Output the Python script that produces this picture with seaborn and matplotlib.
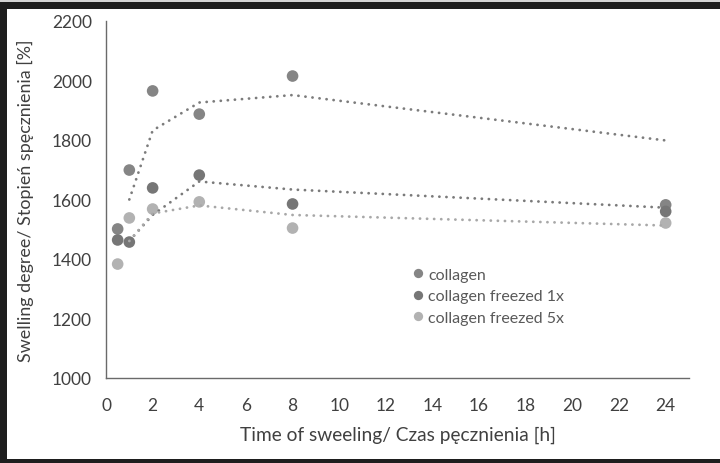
import numpy as np
import pandas as pd
import matplotlib
matplotlib.use("Agg")
import matplotlib.pyplot as plt
from matplotlib.patches import Rectangle
import seaborn as sns

# ---- data ----
time_h = [0.5, 1, 2, 4, 8, 24]
collagen = [1501, 1699, 1965, 1887, 2015, 1582]
collagen_1x = [1464, 1457, 1639, 1682, 1585, 1560]
collagen_5x = [1383, 1538, 1568, 1592, 1504, 1521]
series_names = ["collagen", "collagen freezed 1x", "collagen freezed 5x"]
x_ticks = [0, 2, 4, 6, 8, 10, 12, 14, 16, 18, 20, 22, 24]
y_ticks = [1000, 1200, 1400, 1600, 1800, 2000, 2200]

point_colors = ["#858585", "#767676", "#b2b2b2"]
line_colors = ["#7c7c7c", "#7a7a7a", "#a8a8a8"]

sns.set_theme(style="white")
plt.rcParams["font.family"] = ["Lato", "DejaVu Sans"]

frames = []
for name, vals in zip(series_names, [collagen, collagen_1x, collagen_5x]):
    d = pd.DataFrame({"time": time_h, "value": vals, "series": name})
    d["ma"] = d["value"].rolling(2).mean()
    frames.append(d)
df = pd.concat(frames, ignore_index=True)

fig = plt.figure(figsize=(7.2, 4.64), dpi=100)
fig.patch.set_facecolor("white")
ax = fig.add_axes([106 / 720, 1 - 379 / 464, 583 / 720, 357 / 464])

pal = dict(zip(series_names, point_colors))
lpal = dict(zip(series_names, line_colors))

sns.scatterplot(data=df, x="time", y="value", hue="series", palette=pal,
                s=70, edgecolor="none", ax=ax, zorder=2)
handles, labels = ax.get_legend_handles_labels()
if ax.get_legend():
    ax.get_legend().remove()

n_before = len(ax.lines)
for name in series_names:
    sub = df[(df["series"] == name) & df["ma"].notna()]
    sns.lineplot(data=sub, x="time", y="ma", color=lpal[name], ax=ax,
                 linewidth=2.0, legend=False,
                 zorder=3, estimator=None, sort=False)
for l in ax.lines[n_before:]:
    l.set_linestyle((0, (0.05, 2.5)))
    l.set_dash_capstyle("round")

ax.set_xlim(0, 25)
ax.set_ylim(1000, 2200)
ax.set_xticks(x_ticks)
ax.set_yticks(y_ticks)
ax.tick_params(axis="both", length=0, labelsize=12.5, pad=14)
ax.tick_params(axis="y", pad=10)
for t in ax.get_xticklabels() + ax.get_yticklabels():
    t.set_color("#404040")
for s in ["top", "right"]:
    ax.spines[s].set_visible(False)
for s in ["left", "bottom"]:
    ax.spines[s].set_color("#6a6a6a")
    ax.spines[s].set_linewidth(1.0)

ax.set_xlabel("Time of sweeling/ Czas pęcznienia [h]", fontsize=13.8,
              color="#404040", labelpad=9)
ax.set_ylabel("Swelling degree/ Stopień spęcznienia [%]", fontsize=12.9,
              color="#404040", labelpad=13)

leg = ax.legend(handles, labels, loc="upper left",
                bbox_to_anchor=(0.497, 0.327), frameon=False, fontsize=11.5,
                handletextpad=-0.35, labelspacing=0.45, markerscale=0.8,
                borderaxespad=0)
for t in leg.get_texts():
    t.set_color("#595959")

# surrounding dark frame of the screenshot
W, H = 720, 464
def px_rect(x0, y0, x1, y1, color):
    fig.add_artist(Rectangle((x0 / W, 1 - y1 / H), (x1 - x0) / W, (y1 - y0) / H,
                             transform=fig.transFigure, facecolor=color,
                             edgecolor="none", zorder=10))
px_rect(0, 0, 720, 3, "#d4d4d4")
px_rect(0, 3, 720, 10, "#1e1e1e")
px_rect(0, 3, 7, 464, "#1e1e1e")
px_rect(0, 460, 720, 464, "#1e1e1e")

fig.savefig("out.png", dpi=100)
